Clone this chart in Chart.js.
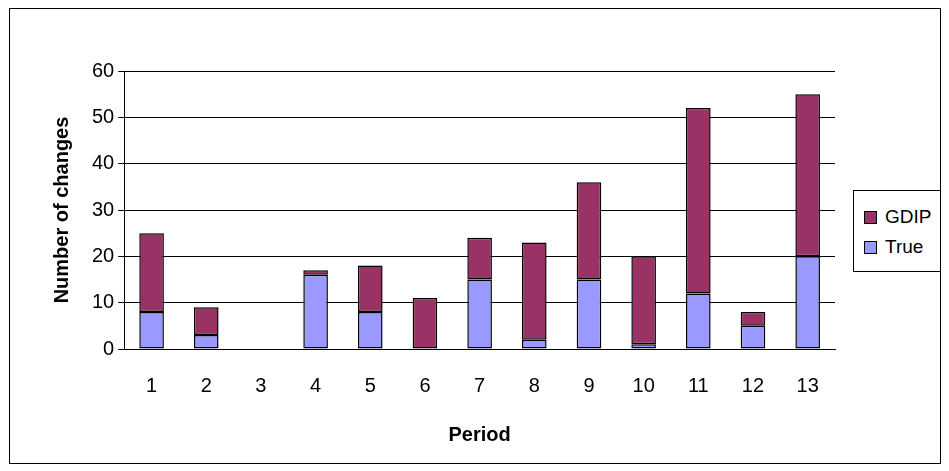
<!DOCTYPE html>
<html>
<head>
<script src="https://cdn.jsdelivr.net/npm/chart.js@4"></script>
<style>
  body { margin: 0; background: #fff; }
  #wrap { position: relative; width: 949px; height: 471px; }
  #frame { position: absolute; left: 9px; top: 8px; width: 930px; height: 454px; border: 1px solid #000; }
  #legend { position: absolute; left: 853px; top: 190px; width: 86px; height: 80px; border: 1px solid #000;
    font-family: "Liberation Sans", Arial, sans-serif; font-size: 19px; background: #fff; }
  .item { position: absolute; left: 10px; display: flex; align-items: center; }
  .sw { width: 11px; height: 11px; border: 1px solid #000; margin-right: 8px; }
</style>
</head>
<body>
<div id="wrap">
  <div id="frame"></div>
  <canvas id="c" width="949" height="471"></canvas>
  <div id="legend">
    <div class="item" style="top:15px"><div class="sw" style="background:#993366"></div>GDIP</div>
    <div class="item" style="top:45px"><div class="sw" style="background:#9999FF"></div>True</div>
  </div>
</div>
<script>
const periods = ["1", "2", "3", "4", "5", "6", "7", "8", "9", "10", "11", "12", "13"];
const trueValues = [8, 3, 0, 16, 8, 0, 15, 2, 15, 1, 12, 5, 20];
const gdipValues = [17, 6, 0, 1, 10, 11, 9, 21, 21, 19, 40, 3, 35];
const yTicks = [0, 10, 20, 30, 40, 50, 60];

const font = { family: "'Liberation Sans', Arial, sans-serif", size: 20 };

new Chart(document.getElementById("c"), {
    type: 'bar',
    data: {
        labels: periods,
        datasets: [
            { label: "True", data: trueValues, backgroundColor: "#9999FF", borderColor: "#000", borderWidth: 1.5, borderSkipped: false, barPercentage: 0.45, categoryPercentage: 1 },
            { label: "GDIP", data: gdipValues, backgroundColor: "#993366", borderColor: "#000", borderWidth: 1.5, borderSkipped: false, barPercentage: 0.45, categoryPercentage: 1 }
        ]
    },
    options: {
        responsive: false,
        animation: false,
        layout: { padding: { left: 46, right: 114, top: 71, bottom: 20 } },
        plugins: { legend: { display: false }, tooltip: { enabled: false } },
        scales: {
            x: {
                stacked: true,
                grid: { display: false },
                border: { color: "#000" },
                ticks: { color: "#000", font: font, padding: 17 },
                title: { display: true, text: "Period", color: "#000", font: { ...font, weight: "bold" }, padding: { top: 8 } }
            },
            y: {
                stacked: true,
                min: 0, max: 60,
                afterBuildTicks: axis => { axis.ticks = yTicks.map(v => ({ value: v })); },
                grid: { color: "#000", tickLength: 6 },
                border: { color: "#000" },
                ticks: { color: "#000", font: font, padding: 4 },
                title: { display: true, text: "Number of changes", color: "#000", font: { ...font, weight: "bold" }, padding: { bottom: 14 } }
            }
        }
    }
});
</script>
</body>
</html>
